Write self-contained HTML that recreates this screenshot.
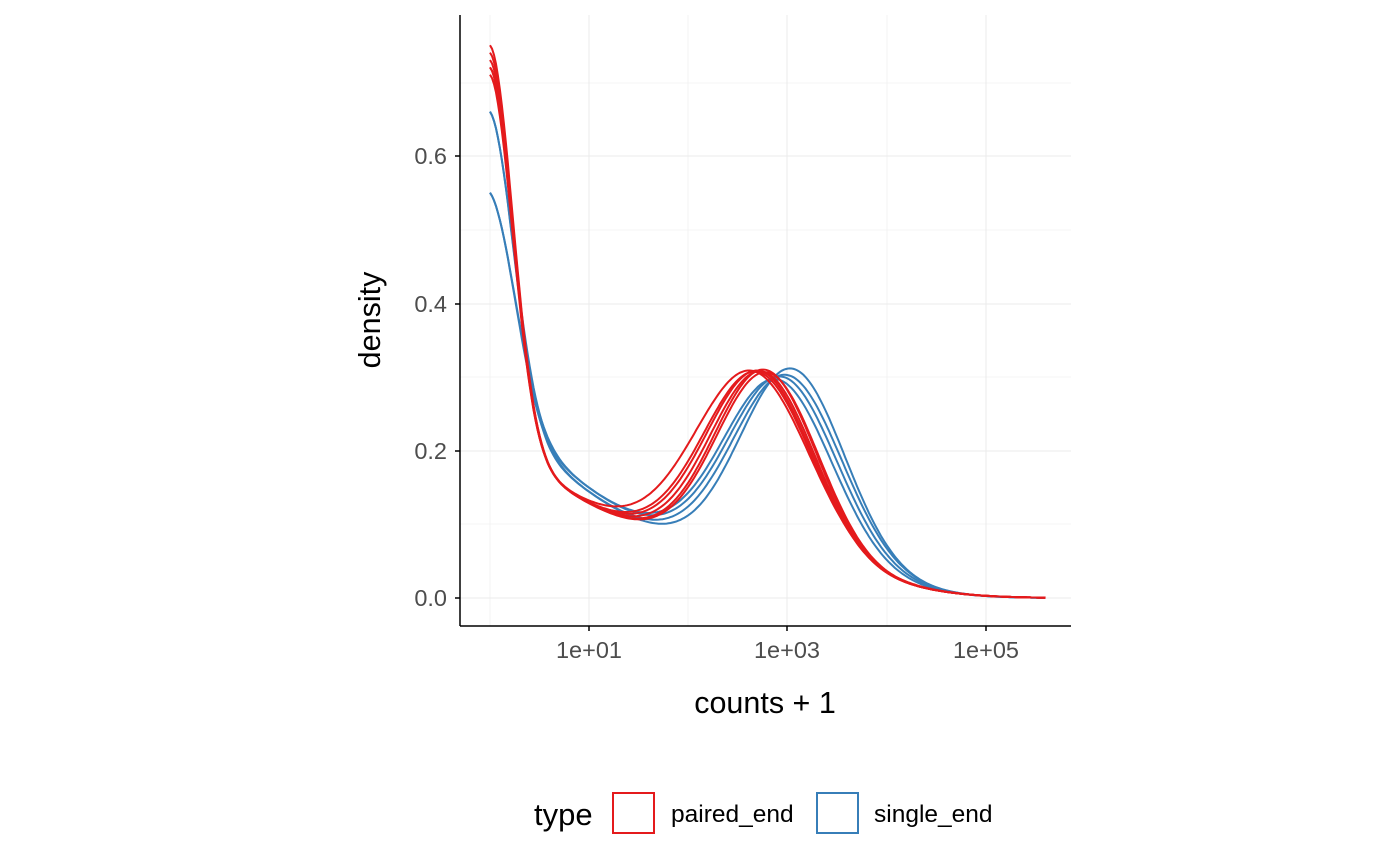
<!DOCTYPE html>
<html><head><meta charset="utf-8"><style>
body{margin:0;background:#fff}
svg{display:block;font-family:"Liberation Sans",Arial,sans-serif}
</style></head><body>
<svg id="s" width="1400" height="865" xmlns="http://www.w3.org/2000/svg">
<g stroke="#ebebeb" stroke-width="1">
<line x1="460" x2="1071" y1="83" y2="83" stroke-width="0.6"/>
<line x1="460" x2="1071" y1="230" y2="230" stroke-width="0.6"/>
<line x1="460" x2="1071" y1="377" y2="377" stroke-width="0.6"/>
<line x1="460" x2="1071" y1="524" y2="524" stroke-width="0.6"/>
<line x1="460" x2="1071" y1="156" y2="156"/>
<line x1="460" x2="1071" y1="304" y2="304"/>
<line x1="460" x2="1071" y1="451" y2="451"/>
<line x1="460" x2="1071" y1="598" y2="598"/>
<line y1="15" y2="626" x1="490" x2="490" stroke-width="0.6"/>
<line y1="15" y2="626" x1="688" x2="688" stroke-width="0.6"/>
<line y1="15" y2="626" x1="887" x2="887" stroke-width="0.6"/>
<line y1="15" y2="626" x1="589" x2="589"/>
<line y1="15" y2="626" x1="787" x2="787"/>
<line y1="15" y2="626" x1="986" x2="986"/>
</g>
<g id="curves" fill="none" stroke-width="2"></g>
<g stroke="#000" stroke-width="1.5">
<line x1="460" y1="15" x2="460" y2="626"/>
<line x1="460" y1="626" x2="1071" y2="626"/>
<line x1="455" x2="460" y1="156" y2="156"/><line x1="455" x2="460" y1="304" y2="304"/>
<line x1="455" x2="460" y1="451" y2="451"/><line x1="455" x2="460" y1="598" y2="598"/>
<line y1="626" y2="631" x1="589" x2="589"/><line y1="626" y2="631" x1="787" x2="787"/><line y1="626" y2="631" x1="986" x2="986"/>
</g>
<g fill="#4d4d4d" font-size="23.5" text-anchor="end">
<text x="447" y="164">0.6</text><text x="447" y="312">0.4</text>
<text x="447" y="459">0.2</text><text x="447" y="606">0.0</text>
</g>
<g fill="#4d4d4d" font-size="23.5" text-anchor="middle">
<text x="589" y="658">1e+01</text><text x="787" y="658">1e+03</text><text x="986" y="658">1e+05</text>
</g>
<text x="765" y="713" font-size="30.5" text-anchor="middle">counts + 1</text>
<text transform="translate(380,320) rotate(-90)" font-size="30.5" text-anchor="middle">density</text>
<text x="534" y="825" font-size="31">type</text>
<rect x="613" y="793" width="41" height="40" fill="none" stroke="#e41a1c" stroke-width="2"/>
<text x="671" y="822" font-size="24.5">paired_end</text>
<rect x="817" y="793" width="41" height="40" fill="none" stroke="#377eb8" stroke-width="2"/>
<text x="874" y="822" font-size="24.5">single_end</text>
</svg>
<script>
var g=document.getElementById('curves');
function f(u,p){var t=p.t*Math.exp(-u/p.tl);var h=(p.h-p.t)*Math.exp(-Math.pow(u/p.hs,2)/2);var b=p.b*Math.exp(-Math.pow((u-p.mu)/p.s,2)/2);var damp=1/(1+Math.exp((u-4.6)/0.35));return h+b+t*damp;}
function draw(p,col){var d='';for(var u=0;u<=5.6;u+=0.02){var x=490+u*99.2,y=598-f(u,p)*737;d+=(d?'L':'M')+x.toFixed(1)+','+y.toFixed(1);}
var e=document.createElementNS('http://www.w3.org/2000/svg','path');e.setAttribute('d',d);e.setAttribute('stroke',col);g.appendChild(e);}
var blue=[{h:0.66,hs:0.24,t:0.29,tl:1.5,b:0.255,mu:2.9,s:0.55},{h:0.55,hs:0.26,t:0.29,tl:1.5,b:0.26,mu:2.95,s:0.55},{h:0.55,hs:0.26,t:0.28,tl:1.5,b:0.275,mu:3.05,s:0.53},{h:0.66,hs:0.24,t:0.28,tl:1.5,b:0.265,mu:3.0,s:0.55}];
blue.forEach(function(p){draw(p,'#377eb8')});
var red=[{h:0.75,hs:0.23,t:0.23,tl:1.7,b:0.26,mu:2.7,s:0.55},{h:0.73,hs:0.23,t:0.23,tl:1.7,b:0.262,mu:2.75,s:0.53},{h:0.72,hs:0.23,t:0.23,tl:1.7,b:0.265,mu:2.78,s:0.52},{h:0.71,hs:0.23,t:0.23,tl:1.7,b:0.262,mu:2.72,s:0.54},{h:0.74,hs:0.23,t:0.23,tl:1.7,b:0.26,mu:2.65,s:0.58},{h:0.72,hs:0.23,t:0.23,tl:1.7,b:0.262,mu:2.8,s:0.52}];
red.forEach(function(p){draw(p,'#e41a1c')});
</script>
</body></html>
